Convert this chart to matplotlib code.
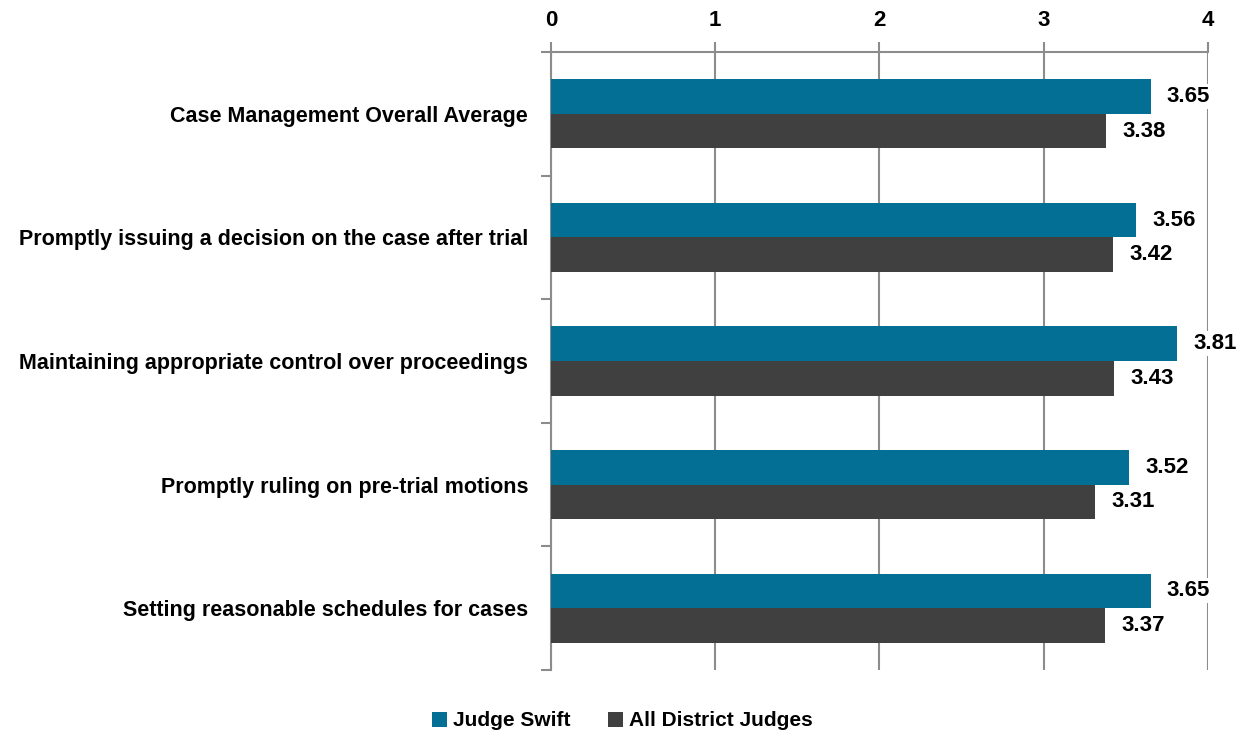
import numpy as np
import matplotlib.pyplot as plt

# data
categories = ["Case Management Overall Average",
              "Promptly issuing a decision on the case after trial",
              "Maintaining appropriate control over proceedings",
              "Promptly ruling on pre-trial motions",
              "Setting reasonable schedules for cases"]
judge_swift = [3.65, 3.56, 3.81, 3.52, 3.65]
all_judges = [3.38, 3.42, 3.43, 3.31, 3.37]
series_names = ["Judge Swift", "All District Judges"]
colors = ["#036F94", "#404040"]

plt.rcParams['font.family'] = ["Liberation Sans", "DejaVu Sans"]

fig = plt.figure(figsize=(12.45, 7.36), dpi=100)
ax = fig.add_axes([551 / 1245, 1 - 670 / 736, 657 / 1245, 618 / 736])

y = np.arange(len(categories))
h = 0.28
off = 0.22 - 0.5  # top of teal bar relative to band
b1 = ax.barh(y + off + h / 2, judge_swift, height=h, color=colors[0], label=series_names[0], zorder=3)
b2 = ax.barh(y + off + h * 1.5, all_judges, height=h, color=colors[1], label=series_names[1], zorder=3)

# data labels with white box (covers grid line like the original)
for yi, v in zip(y + off + h / 2, judge_swift):
    ax.text(v + 0.1, yi, f"{v:.2f}", va="center", ha="left", fontsize=16, fontweight="bold",
            zorder=4, bbox=dict(facecolor="white", edgecolor="none", pad=1.5))
for yi, v in zip(y + off + h * 1.5, all_judges):
    ax.text(v + 0.1, yi, f"{v:.2f}", va="center", ha="left", fontsize=16, fontweight="bold",
            zorder=4, bbox=dict(facecolor="white", edgecolor="none", pad=1.5))

ax.set_xlim(0, 4)
ax.set_ylim(len(categories) - 0.5, -0.5)
ax.xaxis.tick_top()
ax.set_xticks([0, 1, 2, 3, 4])
ax.set_xticklabels(["0", "1", "2", "3", "4"], fontsize=16, fontweight="bold")
ax.tick_params(axis="x", length=7, color="#8C8C8C", width=1.5, pad=8)
ax.grid(axis="x", color="#8C8C8C", linewidth=1.5, zorder=0)

ax.set_yticks(np.arange(len(categories) + 1) - 0.5, minor=False)
ax.set_yticklabels([])
ax.set_yticks(y, minor=True)
ax.set_yticklabels(categories, minor=True, fontsize=15.5, fontweight="bold")
ax.tick_params(axis="y", which="major", length=7, color="#8C8C8C", width=1.5)
ax.tick_params(axis="y", which="minor", length=0, pad=16.5)

for s in ["right", "bottom"]:
    ax.spines[s].set_visible(False)
for s in ["left", "top"]:
    ax.spines[s].set_color("#8C8C8C")
    ax.spines[s].set_linewidth(1.5)

fig.legend(handles=[b1, b2], labels=series_names, loc="center", bbox_to_anchor=(0.5, 1 - 721 / 736),
           ncol=2, frameon=False, handlelength=0.7, handleheight=0.7, handletextpad=0.3,
           columnspacing=1.8, prop=dict(weight="bold", size=15))

fig.savefig("out.png", dpi=100)
